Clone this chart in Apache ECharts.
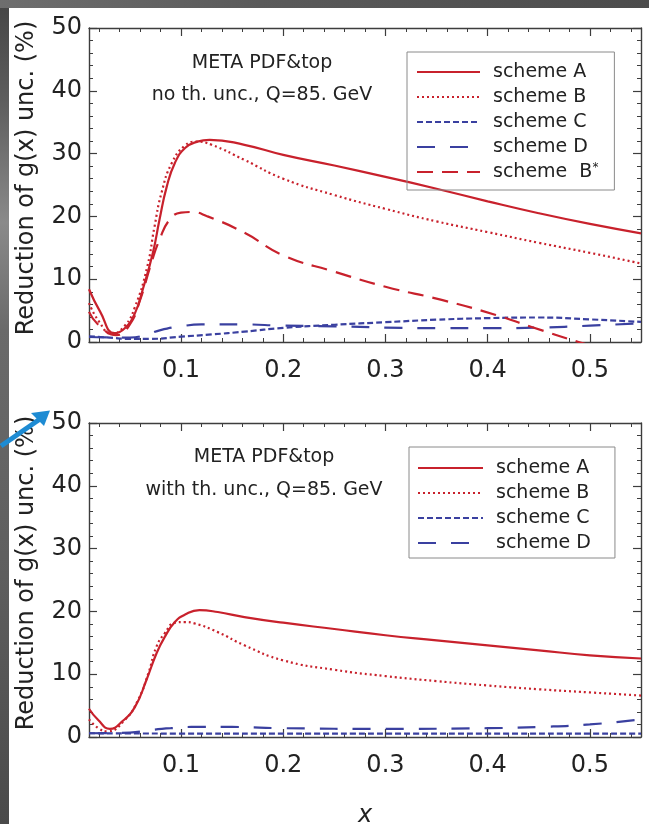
<!DOCTYPE html>
<html>
<head>
<meta charset="utf-8">
<script src="https://cdn.jsdelivr.net/npm/echarts@6/dist/echarts.min.js"></script>
<style>
html,body{margin:0;padding:0;background:#fff;}
#c{width:649px;height:824px;}
</style>
</head>
<body>
<div id="c"></div>
<script>
// ---------- tick values ----------
const majorX = [0.1, 0.2, 0.3, 0.4, 0.5];
const minorX = [0.02, 0.04, 0.06, 0.08, 0.12, 0.14, 0.16, 0.18, 0.22, 0.24, 0.26, 0.28,
                0.32, 0.34, 0.36, 0.38, 0.42, 0.44, 0.46, 0.48, 0.52, 0.54];

// ---------- top panel: no th. unc. ----------
const xA1 = [0.01, 0.021, 0.035, 0.045, 0.055, 0.063, 0.0725, 0.079, 0.086, 0.094, 0.104, 0.116, 0.128, 0.162, 0.2, 0.25, 0.3, 0.35, 0.4, 0.45, 0.5, 0.55];
const yA1 = [8.4, 4.8, 1.4, 2.2, 4.6, 8.6, 14.2, 19.5, 24.7, 28.5, 30.9, 31.9, 32.2, 31.4, 29.8, 28.1, 26.3, 24.4, 22.4, 20.5, 18.8, 17.3];

const xB1 = [0.01, 0.02, 0.032, 0.045, 0.055, 0.067, 0.074, 0.081, 0.091, 0.104, 0.115, 0.13, 0.162, 0.2, 0.25, 0.3, 0.35, 0.4, 0.45, 0.5, 0.55];
const yB1 = [6.2, 3.2, 1.3, 2.6, 5.6, 12.0, 18.3, 23.8, 28.5, 31.3, 31.9, 31.4, 29.0, 26.0, 23.4, 21.2, 19.2, 17.5, 15.8, 14.2, 12.5];

const xC1 = [0.01, 0.03, 0.05, 0.07, 0.1, 0.13, 0.162, 0.2, 0.25, 0.3, 0.35, 0.4, 0.45, 0.5, 0.55];
const yC1 = [0.9, 0.7, 0.5, 0.5, 0.85, 1.2, 1.65, 2.25, 2.75, 3.15, 3.55, 3.8, 3.9, 3.6, 3.2];

const xD1 = [0.01, 0.05, 0.065, 0.08, 0.1, 0.12, 0.16, 0.2, 0.25, 0.3, 0.35, 0.4, 0.45, 0.5, 0.55];
const yD1 = [0.8, 0.7, 1.1, 1.9, 2.5, 2.8, 2.8, 2.6, 2.5, 2.3, 2.2, 2.2, 2.3, 2.6, 3.0];

const xBs1 = [0.01, 0.02, 0.037, 0.05, 0.06, 0.071, 0.079, 0.089, 0.1, 0.11, 0.126, 0.162, 0.2, 0.25, 0.3, 0.355, 0.408, 0.443, 0.489, 0.55];
const yBs1 = [4.8, 2.6, 1.1, 2.8, 6.7, 12.6, 16.3, 19.5, 20.6, 20.7, 20.0, 17.4, 13.8, 11.2, 8.8, 6.7, 4.3, 2.4, 0, -2.9];

// ---------- bottom panel: with th. unc. ----------
const xA2 = [0.01, 0.019, 0.0305, 0.042, 0.055, 0.066, 0.076, 0.084, 0.094, 0.104, 0.118, 0.136, 0.162, 0.2, 0.25, 0.3, 0.35, 0.4, 0.45, 0.5, 0.55];
const yA2 = [4.5, 2.7, 1.3, 2.4, 4.8, 9.0, 13.3, 15.9, 18.3, 19.5, 20.2, 19.9, 19.1, 18.2, 17.2, 16.2, 15.4, 14.6, 13.8, 13.0, 12.5];

const xB2 = [0.01, 0.02, 0.028, 0.045, 0.058, 0.068, 0.076, 0.084, 0.094, 0.104, 0.113, 0.136, 0.162, 0.2, 0.25, 0.3, 0.35, 0.4, 0.45, 0.5, 0.55];
const yB2 = [2.8, 1.3, 0.9, 2.7, 5.9, 10.1, 14.4, 16.5, 18.2, 18.3, 18.1, 16.7, 14.6, 12.2, 10.7, 9.7, 8.9, 8.2, 7.6, 7.1, 6.6];

const xC2 = [0.01, 0.1, 0.2, 0.3, 0.4, 0.5, 0.55];
const yC2 = [0.6, 0.55, 0.55, 0.55, 0.55, 0.55, 0.55];

const xD2 = [0.01, 0.05, 0.07, 0.09, 0.11, 0.15, 0.2, 0.3, 0.4, 0.45, 0.5, 0.55];
const yD2 = [0.6, 0.7, 1.1, 1.4, 1.6, 1.6, 1.4, 1.3, 1.4, 1.6, 2.0, 2.8];

const names = ['scheme A', 'scheme B', 'scheme C', 'scheme D', 'scheme  B*'];
const topTitle = ['META PDF&top', 'no th. unc., Q=85. GeV'];
const botTitle = ['META PDF&top', 'with th. unc., Q=85. GeV'];
const yName = 'Reduction of g(x) unc. (%)';
const xName = 'x';

// ---------- styling ----------
const FONT = 'DejaVu Sans';
const RED = '#c8212c';
const BLUE = '#3a40a0';
const FRAME = '#3d3d3d';
const styles = {
  'scheme A':   {color: RED,  type: 'solid'},
  'scheme B':   {color: RED,  type: [2, 3]},
  'scheme C':   {color: BLUE, type: [6, 3]},
  'scheme D':   {color: BLUE, type: [18, 15]},
  'scheme  B*': {color: RED,  type: [16, 9]}
};
const zip = (xs, ys) => xs.map((x, i) => [x, ys[i]]);

const GRID_TOP = [28, 423];
const grids = GRID_TOP.map(t => ({left: 89, top: t, width: 552, height: 314, outerBoundsMode: 'none', containLabel: false}));

const xAxes = [], yAxes = [];
[0, 1].forEach(g => {
  const base = {gridIndex: g, type: 'value', min: 0.01, max: 0.55, splitLine: {show: false}};
  xAxes.push(Object.assign({}, base, {
    position: 'bottom',
    axisLine: {show: true, lineStyle: {color: FRAME, width: 1.4}},
    axisTick: {show: true, inside: true, length: 8, customValues: majorX, lineStyle: {color: FRAME, width: 1.2}},
    axisLabel: {show: true, customValues: majorX, formatter: v => v.toFixed(1), fontFamily: FONT, fontSize: 24, color: '#222', margin: 17},
    name: g === 1 ? xName : '',
    nameLocation: 'middle', nameGap: 67,
    nameTextStyle: {fontFamily: FONT, fontSize: 24, fontStyle: 'italic', color: '#222'}
  }));
  xAxes.push(Object.assign({}, base, {
    position: 'bottom',
    axisLine: {show: false},
    axisTick: {show: true, inside: true, length: 4, customValues: minorX, lineStyle: {color: FRAME, width: 1}},
    axisLabel: {show: false}
  }));
  xAxes.push(Object.assign({}, base, {
    position: 'top',
    axisLine: {show: true, lineStyle: {color: FRAME, width: 1.4}},
    axisTick: {show: true, inside: true, length: 8, customValues: majorX, lineStyle: {color: FRAME, width: 1.2}},
    axisLabel: {show: false}
  }));
  xAxes.push(Object.assign({}, base, {
    position: 'top',
    axisLine: {show: false},
    axisTick: {show: true, inside: true, length: 4, customValues: minorX, lineStyle: {color: FRAME, width: 1}},
    axisLabel: {show: false}
  }));
  const ybase = {gridIndex: g, type: 'value', min: 0, max: 50, interval: 10, splitLine: {show: false},
    axisLine: {show: true, lineStyle: {color: FRAME, width: 1.4}},
    axisTick: {show: true, inside: true, length: 8, lineStyle: {color: FRAME, width: 1.2}},
    minorTick: {show: true, splitNumber: 5, length: 4, lineStyle: {color: FRAME, width: 1}}};
  yAxes.push(Object.assign({}, ybase, {
    position: 'left',
    axisLabel: {fontFamily: FONT, fontSize: 24, color: '#222', margin: 7},
    name: yName, nameLocation: 'middle', nameGap: 50,
    nameTextStyle: {fontFamily: FONT, fontSize: 24, color: '#222', padding: [0, 0, 0, 14]}
  }));
  yAxes.push(Object.assign({}, ybase, {position: 'right', axisLabel: {show: false}}));
});

function mk(name, g, xs, ys) {
  const s = styles[name];
  return {
    name: name, type: 'line', xAxisIndex: 4 * g, yAxisIndex: 2 * g,
    data: zip(xs, ys), showSymbol: false, symbol: 'none',
    smooth: 0.5, clip: true,
    lineStyle: {color: s.color, width: 2.2, type: s.type},
    itemStyle: {color: s.color}, z: 3
  };
}

const series = [
  mk('scheme A', 0, xA1, yA1),
  mk('scheme B', 0, xB1, yB1),
  mk('scheme C', 0, xC1, yC1),
  mk('scheme D', 0, xD1, yD1),
  mk('scheme  B*', 0, xBs1, yBs1),
  mk('scheme A', 1, xA2, yA2),
  mk('scheme B', 1, xB2, yB2),
  mk('scheme C', 1, xC2, yC2),
  mk('scheme D', 1, xD2, yD2)
];

const legendText = {
  fontFamily: FONT, fontSize: 19, color: '#222', lineHeight: 20,
  rich: {sup: {fontFamily: FONT, fontSize: 12, verticalAlign: 'top', lineHeight: 20, padding: [0, 0, 8, 0], color: '#222'}}
};
const legendFmt = n => n === 'scheme  B*' ? 'scheme  B{sup|*}' : n;
const legends = [
  {data: names, left: 407, top: 52, orient: 'vertical', itemWidth: 63, itemHeight: 14, itemGap: 5,
   padding: [10, 16, 8, 9], borderColor: '#8a8a8a', borderWidth: 1, selectedMode: false,
   itemStyle: {opacity: 0},
   textStyle: Object.assign({padding: [0, 0, 0, 8]}, legendText), formatter: legendFmt},
  {data: names.slice(0, 4), left: 409, top: 447, orient: 'vertical', itemWidth: 65, itemHeight: 14, itemGap: 5,
   padding: [11, 24, 5, 8], borderColor: '#8a8a8a', borderWidth: 1, selectedMode: false,
   itemStyle: {opacity: 0},
   textStyle: Object.assign({padding: [0, 0, 0, 8]}, legendText), formatter: legendFmt}
];

const txt = (s, x, y) => ({type: 'text', x: x, y: y, z: 50,
  style: {text: s, fontFamily: FONT, fontSize: 19, fill: '#222', align: 'center', verticalAlign: 'middle'}});

const graphic = [
  {type: 'rect', shape: {x: 0, y: 0, width: 9, height: 824}, z: 60,
   style: {fill: new echarts.graphic.LinearGradient(0, 0, 0, 1, [
     {offset: 0, color: '#454545'}, {offset: 0.12, color: '#5d5d5d'}, {offset: 0.27, color: '#8a8a8a'},
     {offset: 0.4, color: '#6a6a6a'}, {offset: 0.7, color: '#5e5e5e'}, {offset: 1, color: '#4a4a4a'}])}},
  {type: 'rect', shape: {x: 0, y: 0, width: 649, height: 8}, z: 60,
   style: {fill: new echarts.graphic.LinearGradient(0, 0, 1, 0, [
     {offset: 0, color: '#6e6e6e'}, {offset: 0.4, color: '#5a5a5a'}, {offset: 1, color: '#4c4c4c'}])}},
  txt(topTitle[0], 262, 63), txt(topTitle[1], 262, 95),
  txt(botTitle[0], 264, 457), txt(botTitle[1], 264, 490),
  {type: 'line', z: 100, shape: {x1: 1, y1: 446, x2: 40, y2: 419},
   style: {stroke: '#1d8bd3', lineWidth: 5}},
  {type: 'polygon', z: 100, shape: {points: [[50, 410.5], [31, 413], [44, 426]]},
   style: {fill: '#1d8bd3'}}
];

const chart = echarts.init(document.getElementById('c'), null, {renderer: 'canvas'});
chart.setOption({
  animation: false,
  backgroundColor: '#ffffff',
  grid: grids,
  xAxis: xAxes,
  yAxis: yAxes,
  legend: legends,
  series: series,
  graphic: graphic
});
</script>
</body>
</html>
